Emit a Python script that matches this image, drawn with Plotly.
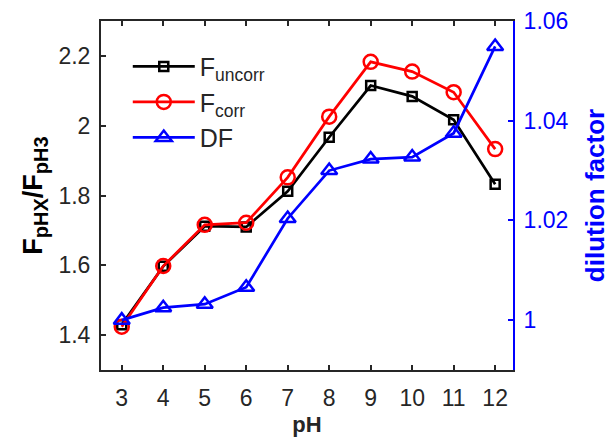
import plotly.graph_objects as go

ph = [3, 4, 5, 6, 7, 8, 9, 10, 11, 12]
f_uncorr = [1.430, 1.597, 1.712, 1.710, 1.812, 1.967, 2.115, 2.084, 2.017, 1.832]
f_corr = [1.424, 1.598, 1.716, 1.722, 1.852, 2.026, 2.183, 2.155, 2.096, 1.933]
dilution = [1.0000, 1.0025, 1.0032, 1.0066, 1.0204, 1.0300, 1.0323, 1.0327, 1.0375, 1.0549]

left_ticks = [1.4, 1.6, 1.8, 2.0, 2.2]
left_ticktext = ["1.4", "1.6", "1.8", "2", "2.2"]
right_ticks = [1.00, 1.02, 1.04, 1.06]
right_ticktext = ["1", "1.02", "1.04", "1.06"]

FONT = "Liberation Sans, Arial, Helvetica, sans-serif"
DARK = "#262626"

fig = go.Figure()
fig.add_trace(go.Scatter(
    x=ph, y=f_uncorr, name="F<sub>uncorr</sub>", mode="lines+markers",
    line=dict(color="black", width=2.7),
    marker=dict(symbol="square-open", size=9, color="black", line=dict(width=2.5)),
))
fig.add_trace(go.Scatter(
    x=ph, y=f_corr, name="F<sub>corr</sub>", mode="lines+markers",
    line=dict(color="red", width=2.7),
    marker=dict(symbol="circle-open", size=14, color="red", line=dict(width=2.5)),
))
fig.add_trace(go.Scatter(
    x=ph, y=dilution, name="DF", mode="lines+markers", yaxis="y2",
    line=dict(color="blue", width=2.7),
    marker=dict(symbol="triangle-up-open", size=14, color="blue", line=dict(width=2.5)),
))

ytitle = ('<b>F<sub><span style="font-size:20px">pHX</span></sub>/'
          'F<sub><span style="font-size:20px">pH3</span></sub></b>')

fig.update_layout(
    width=611, height=443,
    margin=dict(l=101, r=98, t=21, b=73, autoexpand=False),
    paper_bgcolor="white", plot_bgcolor="white",
    font=dict(family=FONT, size=20, color=DARK),
    showlegend=True,
    legend=dict(
        x=0.065, y=0.935, xanchor="left", yanchor="top",
        bgcolor="rgba(0,0,0,0)", font=dict(size=25, color=DARK),
        tracegroupgap=0, itemwidth=62,
    ),
    xaxis=dict(
        range=[2.5, 12.43], tickmode="array", tickvals=ph,
        ticktext=[str(v) for v in ph], automargin=False,
        ticks="inside", ticklen=5, tickwidth=1.5, tickcolor=DARK,
        showline=True, linecolor=DARK, linewidth=2, mirror="ticks",
        showgrid=False, zeroline=False,
        tickfont=dict(size=23, color=DARK), ticklabelstandoff=6,
        title=dict(text="<b>pH</b>", font=dict(size=22, color=DARK), standoff=7),
    ),
    yaxis=dict(
        range=[1.3, 2.3], tickmode="array", tickvals=left_ticks, ticktext=left_ticktext,
        automargin=False,
        ticks="inside", ticklen=5, tickwidth=1.5, tickcolor=DARK,
        showline=True, linecolor=DARK, linewidth=2,
        showgrid=False, zeroline=False,
        tickfont=dict(size=23, color=DARK), ticklabelstandoff=4,
        title=dict(text=ytitle, font=dict(size=27, color="black"), standoff=8),
    ),
    yaxis2=dict(
        range=[0.99, 1.06], tickmode="array", tickvals=right_ticks, ticktext=right_ticktext,
        overlaying="y", side="right", automargin=False,
        ticks="inside", ticklen=5, tickwidth=1.5, tickcolor="blue",
        showline=True, linecolor="blue", linewidth=2,
        showgrid=False, zeroline=False,
        tickfont=dict(size=23, color="blue"), ticklabelstandoff=4,
        title=dict(text="<b>dilution factor</b>", font=dict(size=26, color="blue"), standoff=18),
    ),
)

fig.write_html("out.html")
